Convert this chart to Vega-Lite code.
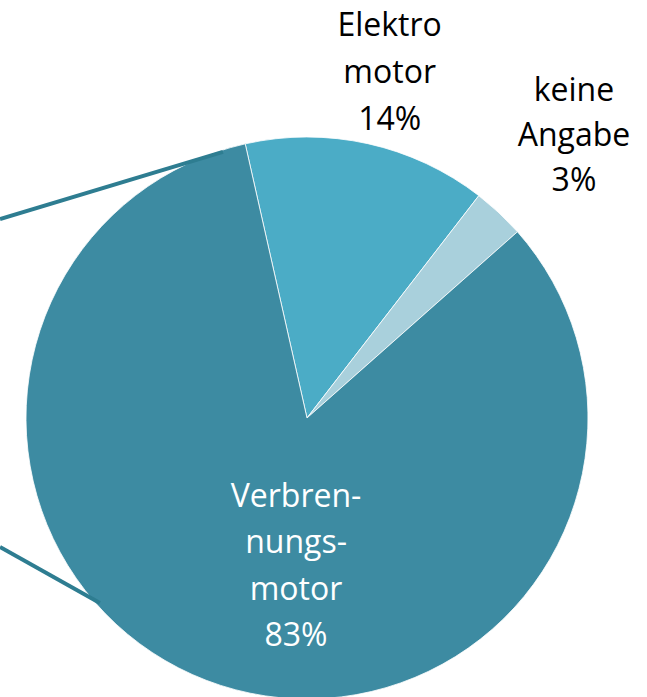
{
  "$schema": "https://vega.github.io/schema/vega-lite/v6.json",
  "width": 647,
  "height": 697,
  "autosize": "none",
  "padding": 0,
  "background": "white",
  "view": {"stroke": null},
  "datasets": {
    "slices": [
      {"antrieb": "Elektromotor", "label": "Elektro\nmotor\n14%", "anteil": 14, "ord": 1},
      {"antrieb": "keine Angabe", "label": "keine\nAngabe\n3%", "anteil": 3, "ord": 2},
      {"antrieb": "Verbrennungsmotor", "label": "Verbren-\nnungs-\nmotor\n83%", "anteil": 83, "ord": 3}
    ],
    "connectors": [
      {"x": -1.0925, "y": 0.708, "x2": -0.299, "y2": 0.947},
      {"x": -1.0925, "y": -0.459, "x2": -0.737, "y2": -0.658}
    ]
  },
  "layer": [
    {
      "data": {"name": "slices"},
      "mark": {"type": "arc", "outerRadius": 281, "stroke": "white", "strokeWidth": 0.8},
      "encoding": {
        "theta": {"field": "anteil", "type": "quantitative", "stack": true, "scale": {"domain": [0, 100], "range": [-0.2217, 6.0615]}},
        "order": {"field": "ord", "type": "quantitative"},
        "color": {"field": "antrieb", "type": "nominal", "legend": null,
          "scale": {"domain": ["Elektromotor", "keine Angabe", "Verbrennungsmotor"], "range": ["#4bacc6", "#a9d0dc", "#3d8ba2"]}},
        "x": {"datum": 0, "type": "quantitative", "axis": null, "scale": {"domain": [-1.0925, 1.21], "nice": false, "zero": false}},
        "y": {"datum": 0, "type": "quantitative", "axis": null, "scale": {"domain": [-0.9929, 1.4875], "nice": false, "zero": false}}
      }
    },
    {
      "data": {"name": "connectors"},
      "mark": {"type": "rule", "color": "#2e7d91", "strokeWidth": 4},
      "encoding": {
        "x": {"field": "x", "type": "quantitative"},
        "y": {"field": "y", "type": "quantitative"},
        "x2": {"field": "x2"},
        "y2": {"field": "y2"}
      }
    },
    {
      "data": {"name": "slices"},
      "transform": [
        {"stack": "anteil", "groupby": [], "sort": [{"field": "ord"}], "as": ["s0", "s1"]},
        {"calculate": "(datum.s0 + datum.s1) / 2", "as": "mid"},
        {"filter": "datum.antrieb === 'Elektromotor'"}
      ],
      "mark": {"type": "text", "radius": 401, "thetaOffset": -0.0105, "font": "Open Sans", "fontSize": 32, "lineHeight": 47, "align": "center", "baseline": "middle", "lineBreak": "\n", "color": "black"},
      "encoding": {
        "theta": {"field": "mid", "type": "quantitative"},
        "text": {"field": "label"},
        "x": {"datum": 0, "type": "quantitative"},
        "y": {"datum": 0, "type": "quantitative"}
      }
    },
    {
      "data": {"name": "slices"},
      "transform": [
        {"stack": "anteil", "groupby": [], "sort": [{"field": "ord"}], "as": ["s0", "s1"]},
        {"calculate": "(datum.s0 + datum.s1) / 2", "as": "mid"},
        {"filter": "datum.antrieb === 'keine Angabe'"}
      ],
      "mark": {"type": "text", "radius": 422, "thetaOffset": -0.0672, "font": "Open Sans", "fontSize": 32, "lineHeight": 45, "align": "center", "baseline": "middle", "lineBreak": "\n", "color": "black"},
      "encoding": {
        "theta": {"field": "mid", "type": "quantitative"},
        "text": {"field": "label"},
        "x": {"datum": 0, "type": "quantitative"},
        "y": {"datum": 0, "type": "quantitative"}
      }
    },
    {
      "data": {"name": "slices"},
      "transform": [
        {"stack": "anteil", "groupby": [], "sort": [{"field": "ord"}], "as": ["s0", "s1"]},
        {"calculate": "(datum.s0 + datum.s1) / 2", "as": "mid"},
        {"filter": "datum.antrieb === 'Verbrennungsmotor'"}
      ],
      "mark": {"type": "text", "radius": 79.8, "thetaOffset": -0.1745, "font": "Open Sans", "fontSize": 32, "lineHeight": 46.3, "align": "center", "baseline": "middle", "lineBreak": "\n", "color": "white"},
      "encoding": {
        "theta": {"field": "mid", "type": "quantitative"},
        "text": {"field": "label"},
        "x": {"datum": 0, "type": "quantitative"},
        "y": {"datum": 0, "type": "quantitative"}
      }
    }
  ]
}
